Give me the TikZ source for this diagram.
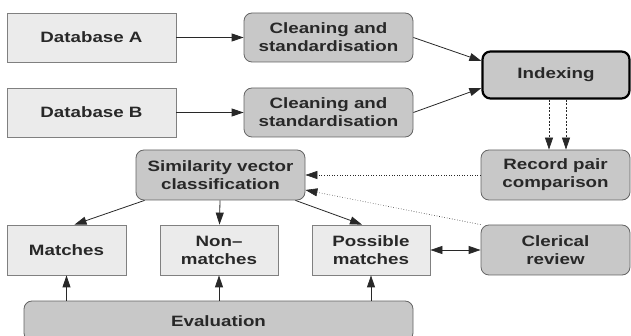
\documentclass[tikz,border=0pt]{standalone}
\usepackage{fontspec}
\setmainfont[FakeStretch=1.25]{Liberation Sans}
\usepackage{tikz}
\usetikzlibrary{arrows.meta, positioning, calc}
\definecolor{boxlight}{RGB}{235,235,235}
\definecolor{boxdark}{RGB}{200,200,200}
\definecolor{edgelight}{RGB}{128,128,128}
\definecolor{edgedark}{RGB}{100,100,100}
\definecolor{mydark}{RGB}{40,40,40}
\tikzset{
  lightbox/.style={rectangle, draw=edgelight, fill=boxlight,
    align=center, inner sep=0pt, font=\bfseries\fontsize{15}{18}\selectfont,
    text=mydark, line width=0.8pt},
  darkbox/.style={rectangle, draw=edgedark, fill=boxdark,
    align=center, inner sep=0pt, font=\bfseries\fontsize{15}{18}\selectfont,
    text=mydark, rounded corners=8pt, line width=0.8pt},
  keybox/.style={darkbox, draw=black, line width=2.2pt},
  arrow/.style={-{Triangle[length=12pt,width=8pt]}, line width=0.8pt, color=mydark},
  dualarrow/.style={{Triangle[length=12pt,width=8pt]}-{Triangle[length=12pt,width=8pt]}, line width=0.8pt, color=mydark},
  dotarrow/.style={-{Triangle[length=12pt,width=8pt]}, dotted, line width=0.6pt, color=mydark},
  dasharrow/.style={-{Triangle[length=12pt,width=8pt]}, dash pattern=on 2pt off 1.5pt, line width=0.7pt, color=mydark}
}

\begin{document}
\begin{tikzpicture}[x=1pt, y=-1pt]
  \useasboundingbox (0,0) rectangle (631,336);

  % --- Inputs ---
  \node[lightbox, minimum width=169pt, minimum height=49pt] (dba) at (91.5,37.5) {Database A};
  \node[lightbox, minimum width=169pt, minimum height=49pt] (dbb) at (91.5,112.5) {Database B};
  \node[darkbox, minimum width=169pt, minimum height=49pt] (cleana) at (328.5,37.5) {Cleaning and\\standardisation};
  \node[darkbox, minimum width=169pt, minimum height=49pt] (cleanb) at (328.5,112.5) {Cleaning and\\standardisation};
  \node[keybox, minimum width=147pt, minimum height=47pt] (index) at (556,75) {Indexing};

  % --- Comparison and classification ---
  \node[darkbox, minimum width=149pt, minimum height=50pt] (record) at (555.5,175) {Record pair\\comparison};
  \node[darkbox, minimum width=169pt, minimum height=50pt] (simil) at (220.5,175) {Similarity vector\\classification};

  % --- Outcomes ---
  \node[lightbox, minimum width=119pt, minimum height=50pt] (match) at (66.5,250) {Matches};
  \node[lightbox, minimum width=118pt, minimum height=50pt] (nonmatch) at (219,250) {Non--\\matches};
  \node[lightbox, minimum width=118pt, minimum height=50pt] (possible) at (371,250) {Possible\\matches};
  \node[darkbox, minimum width=149pt, minimum height=50pt] (clerical) at (555.5,250) {Clerical\\review};
  \node[darkbox, minimum width=389pt, minimum height=40pt] (eval) at (218.5,321) {Evaluation};

  % Connectors
  \draw[arrow] (dba) -- (cleana);
  \draw[arrow] (dbb) -- (cleanb);
  \draw[arrow] (cleana.east) -- ([yshift=14pt]index.west);
  \draw[arrow] (cleanb.east) -- ([yshift=-13pt]index.west);
  \draw[dasharrow] ([xshift=-7pt]index.south) -- ([xshift=-6.5pt]record.north);
  \draw[dasharrow] ([xshift=10pt]index.south) -- ([xshift=10.5pt]record.north);
  \draw[dotarrow] (record.west) -- (simil.east);
  \draw[dotarrow] (clerical.north west) -- ([yshift=-15pt]simil.east);
  \draw[arrow] ([xshift=9pt]simil.south west) -- ([xshift=8pt]match.north);
  \draw[arrow] (simil) -- (nonmatch);
  \draw[arrow] ([xshift=-10pt]simil.south east) -- ([xshift=-9pt]possible.north);
  \draw[dualarrow] (possible) -- (clerical);
  \draw[arrow] (match.south |- eval.north) -- (match.south);
  \draw[arrow] (nonmatch.south |- eval.north) -- (nonmatch.south);
  \draw[arrow] (possible.south |- eval.north) -- (possible.south);
\end{tikzpicture}
\end{document}
